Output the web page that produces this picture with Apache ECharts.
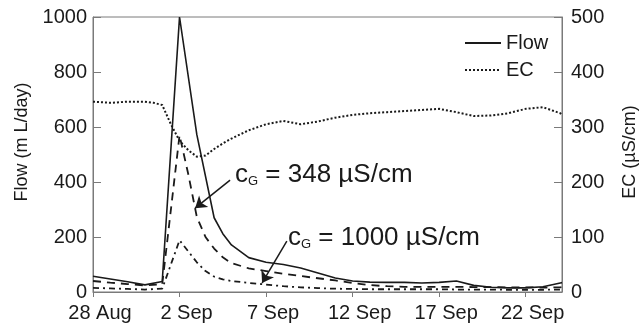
<!DOCTYPE html>
<html>
<head>
<meta charset="utf-8">
<script src="https://cdn.jsdelivr.net/npm/echarts@6/dist/echarts.min.js"></script>
<style>
html,body{margin:0;padding:0;background:#fff;}
#chart{width:644px;height:329px;}
</style>
</head>
<body>
<div id="chart"></div>
<script>
// Day offsets from 28 Aug (day 0)
const xTickLabels = ['28 Aug', '2 Sep', '7 Sep', '12 Sep', '17 Sep', '22 Sep'];

const flowDays = [0,1,2,3,4,5,6,7,7.5,8,9,10,11,12,13,14,15,16,17,18,19,20,21,22,23,24,25,26,27,27.1];
const flowVals = [57,47,37,26,38,1000,572,270,212,171,125,108,100,87,69,51,40,36,35,35,33,35,40,24,17,15,15,19,33,34];

const ecDays = [0,1,2,3,3.5,4,4.5,5,5.5,6,6.5,7,7.5,8,9,10,11,12,13,14,15,16,17,18,19,20,21,22,23,24,25,26,27,27.1];
const ecVals = [346,344,346,346,344,340,305,275,258,246,248,260,270,279,294,305,311,305,310,317,322,325,327,329,331,333,327,320,321,325,333,336,325,322];

const cg348Days = [0,1,2,3,4,5,5.5,6,6.5,7,7.5,8,9,10,11,12,13,14,15,16,17,18,19,20,21,22,23,24,25,26,27,27.1];
const cg348Vals = [40,34,29,24,28,570,430,273,200,158,126,105,86,76,66,58,50,42,33,25,21,19,19,19,19,18,18,17,17,16,17,18];

const cg1000Days = [0,1,2,3,4,5,5.5,6,6.5,7,7.5,8,9,10,11,12,13,14,15,16,17,18,19,20,21,22,23,24,25,26,27,27.1];
const cg1000Vals = [15,13,11,9,12,188,148,108,76,56,46,40,33,27,21,17,14,12,11,10,10,10,10,10,9,9,9,8,8,8,9,9];

// annotation arrows in data units [day, flow]
const arrow348 = [[7.92, 407], [5.9, 305]];
const arrow1000 = [[11.2, 185], [9.77, 33]];

const pairs = (xs, ys) => xs.map((x, i) => [x, ys[i]]);
const FONT = 'Liberation Sans, Arial, Helvetica, sans-serif';
const INK = '#1a1a1a';
const AXIS = '#7a7a7a';

const chart = echarts.init(document.getElementById('chart'), null, {renderer: 'canvas'});
chart.setOption({
  animation: false,
  backgroundColor: '#fff',
  grid: {left: 93, right: 82, top: 17, bottom: 37, show: true, borderColor: AXIS, borderWidth: 1, backgroundColor: 'transparent'},
  legend: {
    data: ['Flow', 'EC'],
    orient: 'vertical',
    left: 459, top: 28,
    itemWidth: 36, itemHeight: 20, itemGap: 7,
    itemStyle: {opacity: 0},
    textStyle: {fontFamily: FONT, fontSize: 20, color: INK}
  },
  xAxis: {
    type: 'value', min: 0, max: 27.1, interval: 5,
    axisLine: {show: true, lineStyle: {color: AXIS, width: 1}},
    axisTick: {show: true, inside: false, length: 5, lineStyle: {color: AXIS}},
    splitLine: {show: false},
    axisLabel: {
      fontFamily: FONT, fontSize: 20, color: INK, margin: 11, padding: [0,0,0,14],
      showMaxLabel: false,
      formatter: v => { const i = Math.round(v / 5); return (Math.abs(v - i * 5) < 1e-6 && xTickLabels[i]) ? xTickLabels[i] : ''; }
    }
  },
  yAxis: [
    {
      type: 'value', min: 0, max: 1000, interval: 200, position: 'left',
      axisLine: {show: true, lineStyle: {color: AXIS, width: 1}},
      axisTick: {show: true, inside: true, length: 8, lineStyle: {color: AXIS}},
      splitLine: {show: false},
      axisLabel: {fontFamily: FONT, fontSize: 20, color: INK, margin: 6, formatter: v => String(v)}
    },
    {
      type: 'value', min: 0, max: 500, interval: 100, position: 'right',
      axisLine: {show: true, lineStyle: {color: AXIS, width: 1}},
      axisTick: {show: true, inside: true, length: 8, lineStyle: {color: AXIS}},
      splitLine: {show: false},
      axisLabel: {fontFamily: FONT, fontSize: 20, color: INK, margin: 9, formatter: v => String(v)}
    }
  ],
  series: [
    {
      name: 'Flow', type: 'line', yAxisIndex: 0, data: pairs(flowDays, flowVals),
      symbol: 'none', lineStyle: {color: INK, width: 1.6, type: 'solid'}, itemStyle: {color: INK}, z: 5
    },
    {
      name: 'EC', type: 'line', yAxisIndex: 1, data: pairs(ecDays, ecVals),
      symbol: 'none', lineStyle: {color: INK, width: 2, type: [2, 2]}, itemStyle: {color: INK}, z: 4
    },
    {
      name: 'cG348', type: 'line', yAxisIndex: 0, data: pairs(cg348Days, cg348Vals),
      symbol: 'none', lineStyle: {color: INK, width: 1.8, type: [8, 6]}, itemStyle: {color: INK}, z: 3,
      markLine: {
        silent: true, symbol: ['none', 'arrow'], symbolSize: 11,
        lineStyle: {color: INK, width: 1.5, type: 'solid'}, label: {show: false},
        data: [[{coord: arrow348[0]}, {coord: arrow348[1]}]]
      }
    },
    {
      name: 'cG1000', type: 'line', yAxisIndex: 0, data: pairs(cg1000Days, cg1000Vals),
      symbol: 'none', lineStyle: {color: INK, width: 1.8, type: [6, 4, 2, 4]}, itemStyle: {color: INK}, z: 3,
      markLine: {
        silent: true, symbol: ['none', 'arrow'], symbolSize: 11,
        lineStyle: {color: INK, width: 1.5, type: 'solid'}, label: {show: false},
        data: [[{coord: arrow1000[0]}, {coord: arrow1000[1]}]]
      }
    }
  ],
  graphic: [
    {
      type: 'text', left: 235, top: 162, silent: true,
      style: {
        text: '{c|c}{g|G}{t| = 348 µS/cm}',
        rich: {
          c: {fontFamily: FONT, fontSize: 26, fill: INK, verticalAlign: 'bottom'},
          g: {fontFamily: FONT, fontSize: 13, fill: INK, verticalAlign: 'bottom'},
          t: {fontFamily: FONT, fontSize: 26, fill: INK, verticalAlign: 'bottom'}
        }
      }
    },
    {
      type: 'text', left: 288, top: 225, silent: true,
      style: {
        text: '{c|c}{g|G}{t| = 1000 µS/cm}',
        rich: {
          c: {fontFamily: FONT, fontSize: 26, fill: INK, verticalAlign: 'bottom'},
          g: {fontFamily: FONT, fontSize: 13, fill: INK, verticalAlign: 'bottom'},
          t: {fontFamily: FONT, fontSize: 26, fill: INK, verticalAlign: 'bottom'}
        }
      }
    },
    {
      type: 'text', x: 22, y: 142, rotation: Math.PI / 2, silent: true,
      style: {text: 'Flow (m L/day)', fontFamily: FONT, fontSize: 18, fill: INK, align: 'center', verticalAlign: 'middle'}
    },
    {
      type: 'text', x: 630, y: 152, rotation: Math.PI / 2, silent: true,
      style: {text: 'EC (µS/cm)', fontFamily: FONT, fontSize: 18, fill: INK, align: 'center', verticalAlign: 'middle'}
    }
  ]
});
</script>
</body>
</html>
